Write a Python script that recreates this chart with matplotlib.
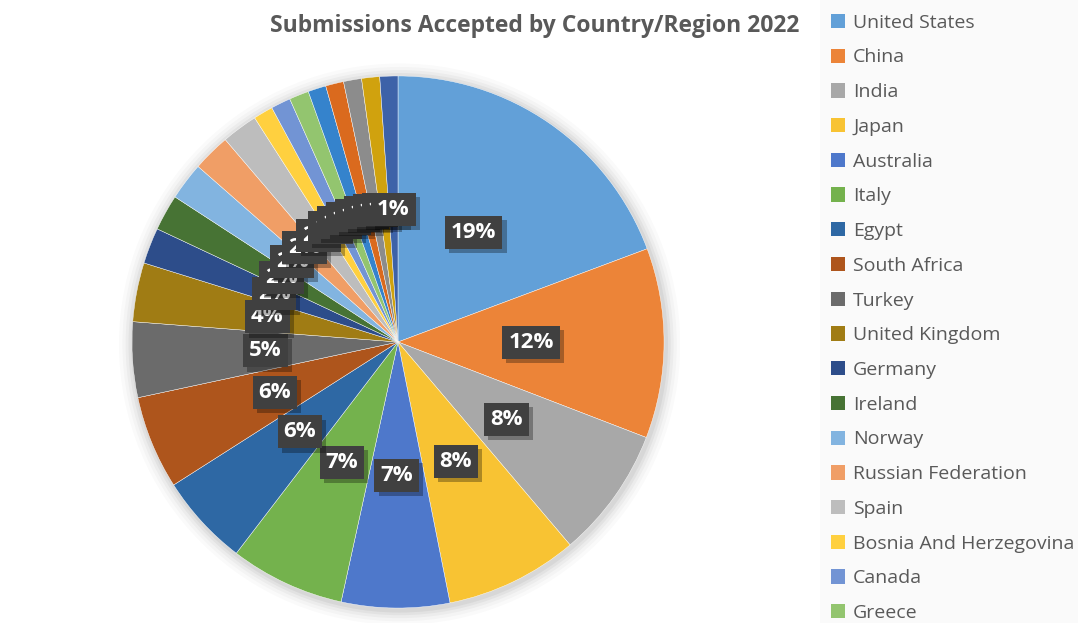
import matplotlib.pyplot as plt
import matplotlib.patheffects as pe
from matplotlib.patches import Circle, Rectangle

plt.rcParams["font.family"] = ["Open Sans", "DejaVu Sans"]

# share of accepted submissions (percent), clockwise from 12 o'clock
countries = ["United States", "China", "India", "Japan", "Australia", "Italy",
             "Egypt", "South Africa", "Turkey", "United Kingdom", "Germany",
             "Ireland", "Norway", "Russian Federation", "Spain",
             "Bosnia And Herzegovina", "Canada", "Greece"]
shares = [19.4, 11.6, 8.0, 8.1, 6.6, 7.0, 5.6, 5.7, 4.6, 3.6, 2.2, 2.2, 2.3,
          2.3, 2.2, 1.2, 1.2, 1.2, 1.1, 1.1, 1.1, 1.1, 1.1]
colors = ["#62A0D8", "#EC8438", "#A8A8A8", "#F8C333", "#4E78CB", "#74B24D",
          "#2E68A4", "#AE551C", "#6B6B6B", "#A07C14", "#2D4D8A", "#477334",
          "#82B4E0", "#F09E66", "#BDBDBD", "#FFD03F", "#7294D4", "#93C56F",
          "#3583CC", "#DA6A1E", "#8C8C8C", "#D0A20E", "#3D62A8"]

fig = plt.figure(figsize=(10.78, 6.23), dpi=100)
fig.patch.set_facecolor("white")

# light panel behind the legend
fig.patches.append(Rectangle((820 / 1078, 0), 1, 1, transform=fig.transFigure,
                             facecolor="#FAFAFA", edgecolor="none", zorder=0))

ax = fig.add_axes([0.1076, -0.0016, 0.5232, 0.9053])

# soft shadow around the pie
for i, r in enumerate([1.055, 1.042, 1.03, 1.019, 1.009]):
    ax.add_patch(Circle((0.006, -0.008), r, facecolor="#000000", alpha=0.018 + i * 0.007,
                        edgecolor="none", zorder=0))

wedges, texts, autotexts = ax.pie(
    shares, colors=colors, startangle=90, counterclock=False,
    autopct="%.0f%%", pctdistance=0.5, radius=1.0,
    wedgeprops=dict(edgecolor="white", linewidth=0.3),
    textprops=dict(color="white", fontsize=16, fontweight="bold"))
ax.set_xlim(-1.06, 1.06)
ax.set_ylim(-1.06, 1.06)
ax.axis("off")

for t in autotexts:
    t.set_bbox(dict(boxstyle="square,pad=0.27", facecolor="#404040", edgecolor="none"))
    t.get_bbox_patch().set_path_effects([
        pe.SimplePatchShadow(offset=(3, -3), shadow_rgbFace="#000000", alpha=0.3),
        pe.Normal()])

fig.text(535 / 1078, 1 - 26 / 623, "Submissions Accepted by Country/Region 2022",
         ha="center", va="center", fontsize=16.5, fontweight="bold", color="#595959")

leg = fig.legend(wedges[:len(countries)], countries, loc="upper left",
                 bbox_to_anchor=(823 / 1078, 1 - 6 / 623), frameon=False,
                 fontsize=14, handlelength=0.75, handleheight=0.75,
                 handletextpad=0.4, labelspacing=0.86, borderaxespad=0)
for t in leg.get_texts():
    t.set_color("#595959")
for h in leg.legend_handles:
    h.set_edgecolor("none")

fig.savefig("out.png", dpi=100)
